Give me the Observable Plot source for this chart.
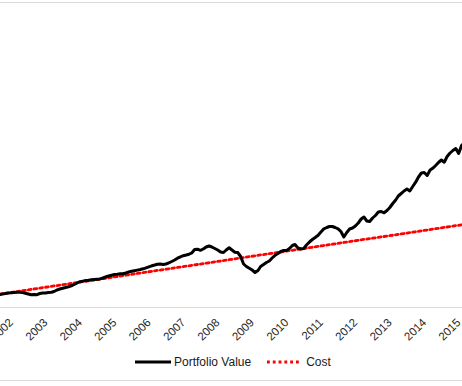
<!DOCTYPE html>
<html><head><meta charset="utf-8">
<script src="https://cdn.jsdelivr.net/npm/d3@7"></script>
<script src="https://cdn.jsdelivr.net/npm/@observablehq/plot@0.6"></script>
<style>
body{margin:0;background:#fff;font-family:"Liberation Sans",Arial,sans-serif;}
#chart{width:462px;margin-top:2px;border-top:1px solid #d9d9d9;border-bottom:1px solid #d9d9d9;padding-bottom:1px;overflow:hidden}
#legend{height:34px;display:flex;align-items:center;font-size:12px;color:#1a1a1a;padding-left:135px}
#legend svg{display:block}
.item{display:flex;align-items:center}
</style></head>
<body><div id="chart"></div>
<script>
// Monthly portfolio value ($K), starting Aug 2001
const startMonth = [2001, 7];
const portfolioValue = [
  13,13.5,14,14.5,14.7,
  15,15.2,15.3,15,14.3,13.5,12.7,13,12.8,14,14.5,14.5,
  15,15.3,16,17.5,18.5,19.3,20,20.8,21.7,23,24.5,25.8,
  26.4,27,27.3,27.7,28,28.3,28.6,29.5,30.7,31.5,32.3,33,
  33.2,33.7,33.7,34.5,35.5,36.2,36.8,37.4,38,38.7,39.7,40.7,
  41.7,42.5,43.3,43.5,43,43.5,44.7,46,47.5,49.3,50.7,51.8,
  52.5,53.3,54.5,58,58.3,57.2,58.5,60.5,61.5,60.5,59,57.5,
  55.5,55,57.5,59.7,57.5,55.3,55,51,43.5,41,39.2,37.5,
  35,37,41,43,45,46.5,49.5,52.2,54,56,57,57,
  59,62,63,59.5,58.5,59,62.5,65.5,68,70,72.2,75.5,
  78.7,80,81,81,80,78.7,76,70.5,75,78.5,79.5,81.5,
  84.5,88.5,90.5,86.5,86,89.5,92,95.5,96,94.7,97,100,
  104,107.5,111.5,114,116.5,118.5,116.5,121,125.3,130.5,134.5,135,
  132,137.5,139.2,142,145,147.5,145.3,151,154.5,157,159,154,
  162,165
];
// Cost ($K) read at points along the straight line
const costMonths = ["2001-08","2002-01","2003-01","2004-01","2005-01","2006-01","2007-01","2008-01","2009-01","2010-01","2011-01","2012-01","2013-01","2014-01","2015-01","2015-02"];
const costValues = [13.4,15.5,20.7,25.8,31.0,36.2,41.3,46.5,51.7,56.8,62.0,67.2,72.3,77.5,82.7,83.1];
const yearTicks = [2002,2003,2004,2005,2006,2007,2008,2009,2010,2011,2012,2013,2014,2015];
const seriesNames = ["Portfolio Value", "Cost"];

const start = new Date(Date.UTC(startMonth[0], startMonth[1], 1));
const portfolio = portfolioValue.map((v, i) => ({date: d3.utcMonth.offset(start, i), value: v}));
const cost = costMonths.map((m, i) => ({date: new Date(m + "-01T00:00:00Z"), value: costValues[i]}));
const ticks = yearTicks.map(y => ({date: new Date(Date.UTC(y, 0, 1)), label: String(y)}));

const chart = Plot.plot({
  width: 462, height: 342,
  marginLeft: 0, marginRight: 0, marginTop: 4, marginBottom: 38,
  style: {fontFamily: '"Liberation Sans", Arial, sans-serif', background: "#fff"},
  x: {type: "utc", domain: [new Date(Date.UTC(2001,7,10)), new Date(Date.UTC(2015,0,11))], axis: null},
  y: {domain: [0, 300], axis: null},
  marks: [
    Plot.ruleY([0], {stroke: "#d9d9d9", strokeWidth: 1}),
    Plot.line(cost, {x: "date", y: "value", stroke: "#ff0000", strokeWidth: 2.8, strokeDasharray: "2.8,3", clip: true}),
    Plot.line(portfolio, {x: "date", y: "value", stroke: "#000", strokeWidth: 3, strokeLinejoin: "round", clip: true}),
    Plot.text(ticks, {x: "date", y: () => 0, text: "label", rotate: -45, textAnchor: "end", dx: -2.8, dy: 13, fontSize: 11.5, fill: "#262626"})
  ]
});
const root = document.getElementById("chart");
root.appendChild(chart);

const legend = document.createElement("div");
legend.id = "legend";
legend.innerHTML =
  `<div class="item"><svg width="36" height="10"><line x1="0" x2="36" y1="5" y2="5" stroke="#000" stroke-width="3"/></svg><span style="margin-left:3px">${seriesNames[0]}</span></div>` +
  `<div class="item" style="margin-left:16px"><svg width="33" height="10"><line x1="0" x2="33" y1="5" y2="5" stroke="#ff0000" stroke-width="2.8" stroke-dasharray="2.8,3"/></svg><span style="margin-left:6px">${seriesNames[1]}</span></div>`;
root.appendChild(legend);
</script>
</body></html>
